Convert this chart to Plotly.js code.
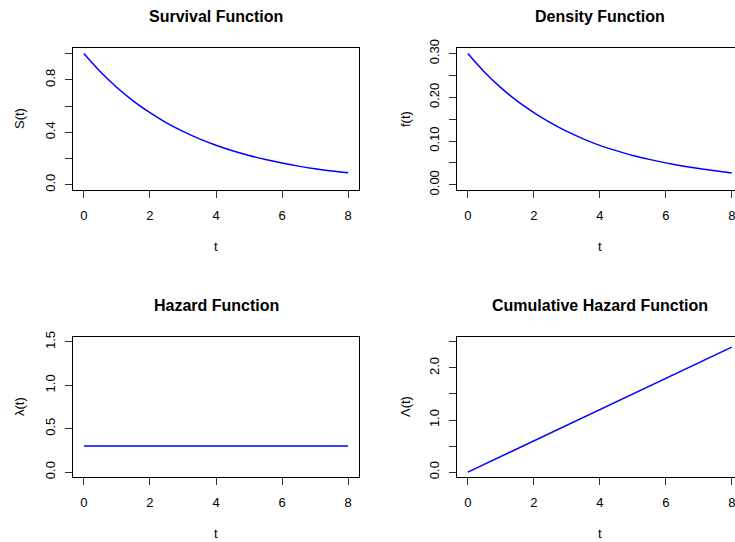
<!DOCTYPE html>
<html>
<head>
<meta charset="utf-8">
<script src="https://cdn.plot.ly/plotly-3.0.1.min.js"></script>
<style>
html,body{margin:0;padding:0;overflow:hidden;background:#fff;}
#chart{width:745px;height:542px;}
</style>
</head>
<body>
<div id="chart"></div>
<script>
// ---- data ----
var tValues = [0,0.5,1,1.5,2,2.5,3,3.5,4,4.5,5,5.5,6,6.5,7,7.5,8];
var survival = [1.000,0.861,0.741,0.638,0.549,0.472,0.407,0.350,0.301,0.259,0.223,0.192,0.165,0.142,0.122,0.105,0.091];
var density = [0.300,0.258,0.222,0.191,0.165,0.142,0.122,0.105,0.090,0.078,0.067,0.058,0.050,0.043,0.037,0.032,0.027];
var hazard = [0.3,0.3,0.3,0.3,0.3,0.3,0.3,0.3,0.3,0.3,0.3,0.3,0.3,0.3,0.3,0.3,0.3];
var cumHazard = [0,0.15,0.30,0.45,0.60,0.75,0.90,1.05,1.20,1.35,1.50,1.65,1.80,1.95,2.10,2.25,2.40];

var panelTitles = ["Survival Function","Density Function","Hazard Function","Cumulative Hazard Function"];
var yLabels = ["S(t)","f(t)","\u03bb(t)","\u039b(t)"];
var xLabel = "t";
var xTicks = [0,2,4,6,8];
var yTicks1 = [0,0.2,0.4,0.6,0.8,1.0];
var yText1 = ["0.0","","0.4","","0.8",""];
var yTicks2 = [0,0.05,0.10,0.15,0.20,0.25,0.30];
var yText2 = ["0.00","","0.10","","0.20","","0.30"];
var yTicks3 = [0,0.5,1.0,1.5];
var yText3 = ["0.0","0.5","1.0","1.5"];
var yTicks4 = [0,0.5,1.0,1.5,2.0,2.5];
var yText4 = ["0.0","","1.0","","2.0",""];

// ---- geometry (pixels) ----
var W = 745, H = 542;
var colL = [73.3, 457.3], colR = [358.7, 742.3];
var rowT = [48.3, 336.7], rowB = [190, 477.3];
function px(x){return x/W;}
function py(y){return 1 - y/H;}

var lineStyle = {color:'#0000ff', width:1.5};
var traces = [
  {x:tValues, y:survival, xaxis:'x', yaxis:'y', mode:'lines', line:Object.assign({shape:'spline'},lineStyle)},
  {x:tValues, y:density, xaxis:'x2', yaxis:'y2', mode:'lines', line:Object.assign({shape:'spline'},lineStyle)},
  {x:tValues, y:hazard, xaxis:'x3', yaxis:'y3', mode:'lines', line:lineStyle},
  {x:tValues, y:cumHazard, xaxis:'x4', yaxis:'y4', mode:'lines', line:lineStyle}
];

var tickFont = {family:'Liberation Sans, Arial, sans-serif', size:13, color:'#000'};
function xaxis(col,row,anchor){
  return {domain:[px(colL[col]),px(colR[col])], anchor:anchor, range:[-0.32,8.32],
    tickvals:xTicks, ticktext:xTicks.map(String), ticks:'outside', ticklen:7, tickcolor:'#333', tickwidth:1,
    showline:true, mirror:true, linecolor:'#000', linewidth:1, showgrid:false, zeroline:false,
    tickfont:tickFont, ticklabelstandoff:6, fixedrange:true};
}
function yaxis(col,row,anchor,rng,vals,txt){
  return {domain:[py(rowB[row]),py(rowT[row])], anchor:anchor, range:rng,
    tickvals:vals, ticktext:txt, tickangle:-90, ticks:'outside', ticklen:7, tickcolor:'#333', tickwidth:1,
    showline:true, mirror:true, linecolor:'#000', linewidth:1, showgrid:false, zeroline:false,
    tickfont:tickFont, ticklabelstandoff:5, fixedrange:true};
}

var ann = [];
var titleFont = {family:'Liberation Sans, Arial, sans-serif', size:16, color:'#000'};
var labFont = {family:'Liberation Sans, Arial, sans-serif', size:13, color:'#000'};
var centers = [[216,16.7],[599.5,16.7],[216,305],[599.5,305]];
var xLabPos = [[216,246],[599.5,246],[216,533],[599.5,533]];
var yLabPos = [[19,119],[405,119],[19,407],[405,407]];
for (var i=0;i<4;i++){
  ann.push({text:'<b>'+panelTitles[i]+'</b>', x:px(centers[i][0]), y:py(centers[i][1]), xref:'paper', yref:'paper',
    xanchor:'center', yanchor:'middle', showarrow:false, font:titleFont});
  ann.push({text:xLabel, x:px(xLabPos[i][0]), y:py(xLabPos[i][1]), xref:'paper', yref:'paper',
    xanchor:'center', yanchor:'middle', showarrow:false, font:labFont});
  ann.push({text:yLabels[i], x:px(yLabPos[i][0]), y:py(yLabPos[i][1]), xref:'paper', yref:'paper',
    xanchor:'center', yanchor:'middle', showarrow:false, textangle:-90, font:labFont});
}

var layout = {
  width:W, height:H, margin:{l:0,r:0,t:0,b:0}, showlegend:false,
  paper_bgcolor:'#fff', plot_bgcolor:'#fff',
  xaxis:xaxis(0,0,'y'), yaxis:yaxis(0,0,'x',[-0.04,1.04],yTicks1,yText1),
  xaxis2:xaxis(1,0,'y2'), yaxis2:yaxis(1,0,'x2',[-0.012,0.312],yTicks2,yText2),
  xaxis3:xaxis(0,1,'y3'), yaxis3:yaxis(0,1,'x3',[-0.06,1.56],yTicks3,yText3),
  xaxis4:xaxis(1,1,'y4'), yaxis4:yaxis(1,1,'x4',[-0.1,2.6],yTicks4,yText4),
  annotations:ann
};
Plotly.newPlot('chart', traces, layout, {staticPlot:true, displayModeBar:false});
</script>
</body>
</html>
